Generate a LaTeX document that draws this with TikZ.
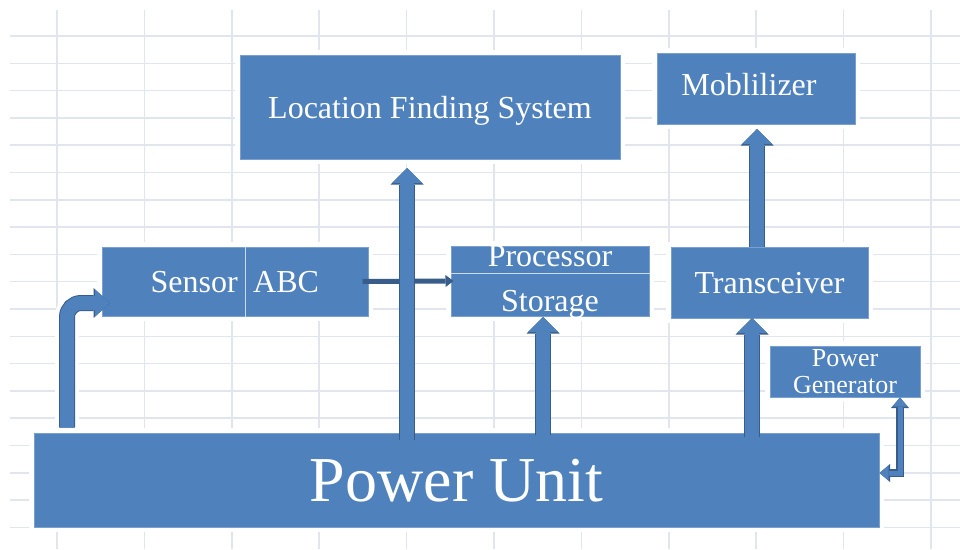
\documentclass[tikz,border=0pt]{standalone}
\usepackage{fontspec}
\setmainfont{Liberation Serif}
\usetikzlibrary{arrows.meta}
\definecolor{boxblue}{RGB}{79,129,189}
\definecolor{boxedge}{RGB}{122,160,208}
\definecolor{arrowline}{RGB}{56,93,138}
\definecolor{gridgray}{RGB}{224,229,238}
\tikzset{
    box/.style={rectangle, fill=boxblue, draw=boxedge, line width=1pt,
        text=white, inner sep=0pt, text depth=0pt,
        font=\fontsize{32}{36}\selectfont,
        preaction={draw=white, line width=10pt}},
    boxtext/.style={text=white, inner sep=0pt, text depth=0pt,
        font=\fontsize{32}{36}\selectfont}
}
\tikzset{
    gridline/.style={draw=gridgray, line width=1.5pt},
    divider/.style={draw=white!70!boxblue, line width=1pt}
}
\tikzset{
    blockarrow/.style={line width=14pt, draw=boxblue,
        -{Triangle[length=15pt,width=30pt,line width=0pt]},
        preaction={draw=arrowline, line width=16pt,
            -{Triangle[length=16.5pt,width=33pt,line width=0pt]}}},
    bentarrow/.style={line width=14pt, draw=boxblue, rounded corners=14pt,
        -{Triangle[length=15pt,width=27pt,line width=0pt]},
        preaction={draw=white, line width=24pt, shorten >=18pt},
        preaction={draw=arrowline, line width=16pt,
            -{Triangle[length=16.5pt,width=30pt,line width=0pt]}}},
    thinarrow/.style={line width=5pt, draw=arrowline,
        -{Triangle[length=8pt,width=12pt,line width=0pt]}},
    pgarrow/.style={line width=5pt, draw=boxblue,
        {Triangle[length=9pt,width=15pt,line width=0pt]}-{Triangle[length=9pt,width=15pt,line width=0pt]},
        preaction={draw=arrowline, line width=7.5pt,
            {Triangle[length=10.5pt,width=18pt,line width=0pt]}-{Triangle[length=10.5pt,width=18pt,line width=0pt]}}}
}

\begin{document}
\begin{tikzpicture}[x=1pt, y=-1pt]
	\useasboundingbox[fill=white] (0,0) rectangle (960,549);
	\foreach \i in {0,...,10}
		\draw[gridline] (57+87.4*\i,10) -- (57+87.4*\i,549);
	\foreach \j in {0,...,18}
		\draw[gridline] (10,36+27.3*\j) -- (960,36+27.3*\j);

	\node (lfs) [box, minimum width=380pt, minimum height=104pt] at (430,107) {Location Finding System};
	\node (mob) [box, minimum width=198pt, minimum height=71pt] at (756,88.5) {};
	\node (mobtxt) [boxtext] at (749,84) {Moblilizer};
	\node (sens) [box, minimum width=266pt, minimum height=69pt] at (235,281.5) {};
	\node (senstxt) [boxtext, anchor=east] at (238,281.5) {Sensor};
	\node (abctxt) [boxtext, anchor=west] at (253,281.5) {ABC};
	\node (ps) [box, minimum width=198pt, minimum height=70pt] at (550,281) {};
	\node (proctxt) [boxtext] at (550,256.5) {Processor};
	\node (stortxt) [boxtext] at (550,301) {Storage};
	\node (trx) [box, minimum width=197pt, minimum height=71pt] at (769.5,282.5) {Transceiver};
	\node (pgen) [box, minimum width=150pt, minimum height=51pt, align=center,
		font=\fontsize{26}{27.7}\selectfont] at (845,371.5) {Power\\Generator};
	\node (pu) [box, minimum width=845pt, minimum height=94pt,
		font=\fontsize{64}{70}\selectfont] at (456.5,480) {Power Unit};

	\coordinate (sensdiv) at (245,0);
	\coordinate (psdiv) at (0,273);
	\draw[divider] (sens.north -| sensdiv) -- (sens.south -| sensdiv);
	\draw[divider] (ps.west |- psdiv) -- (ps.east |- psdiv);

	\coordinate (lfsin) at (407,168);
	\coordinate (storin) at (543,317);
	\coordinate (trxin) at (752,318);
	\coordinate (mobin) at (757,129);
	\coordinate (sensout) at (67,0);
	\coordinate (sensin) at (110,303);
	\coordinate (pgin) at (900,0);
	\coordinate (puin) at (0,473);

	\draw[thinarrow] ([xshift=-6pt]sens.east) -- ([xshift=3pt]ps.west);
	\draw[blockarrow] ([yshift=-7pt]pu.north -| lfsin) -- (lfsin);
	\draw[blockarrow] ([yshift=-2pt]pu.north -| storin) -- (storin);
	\draw[blockarrow] ([yshift=-4pt]pu.north -| trxin) -- (trxin);
	\draw[blockarrow] (trx.north -| mobin) -- (mobin);
	\draw[bentarrow] ([yshift=5pt]pu.north -| sensout) |- (sensin);
	\draw[pgarrow] (pgen.south -| pgin) |- (pu.east |- puin);
\end{tikzpicture}
\end{document}
